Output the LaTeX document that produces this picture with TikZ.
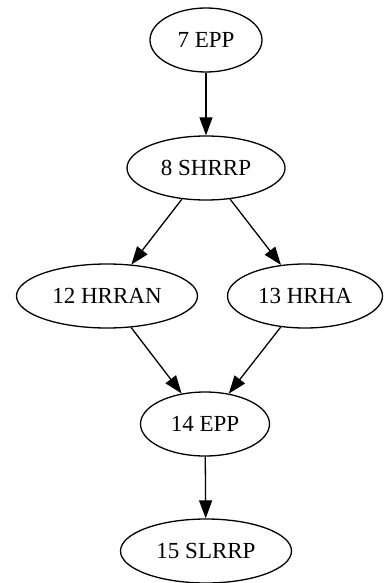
\documentclass[tikz,border=0pt]{standalone}
\usepackage{fontspec}
\setmainfont{Liberation Serif}
\usetikzlibrary{shapes.geometric,arrows.meta}
\begin{document}
\begin{tikzpicture}[x=1pt,y=-1pt,
  state/.style={ellipse,draw,line width=1.3pt,inner sep=0pt,
    font=\fontsize{23}{27}\selectfont},
  flow/.style={line width=1.3pt,-{Triangle[length=18pt,width=13pt]}}]
\useasboundingbox (0,0) rectangle (385,583);
\node[state,minimum width=112pt,minimum height=64pt] (n7)  at (206,40)  {7 EPP};
\node[state,minimum width=158pt,minimum height=64pt] (n8)  at (206,168) {8 SHRRP};
\node[state,minimum width=181pt,minimum height=64pt] (n12) at (107,296) {12 HRRAN};
\node[state,minimum width=155pt,minimum height=64pt] (n13) at (305,296) {13 HRHA};
\node[state,minimum width=129pt,minimum height=64pt] (n14) at (205,424) {14 EPP};
\node[state,minimum width=171pt,minimum height=64pt] (n15) at (206,551) {15 SLRRP};
\draw[flow] (n7) -- (n8);
\draw[flow] (n8) -- (n12);
\draw[flow] (n8) -- (n13);
\draw[flow] (n12) -- (n14);
\draw[flow] (n13) -- (n14);
\draw[flow] (n14) -- (n15);
\end{tikzpicture}
\end{document}
